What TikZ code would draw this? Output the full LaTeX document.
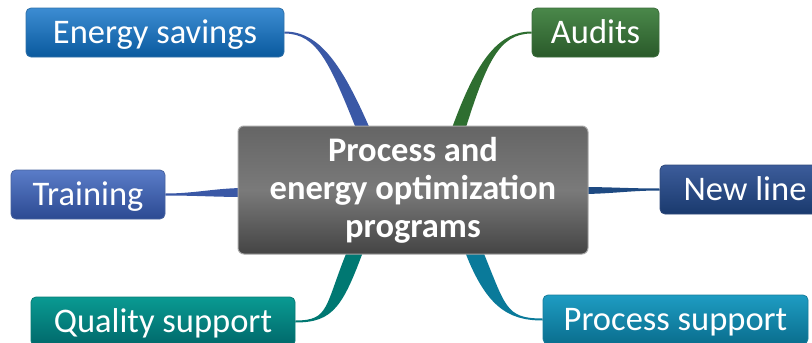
\documentclass[tikz,border=0pt]{standalone}
\usepackage{fontspec}
\setmainfont{Carlito}
\usetikzlibrary{positioning, calc, backgrounds}
\definecolor{hubtop}{HTML}{656565}
\definecolor{hubmid}{HTML}{7A7A7A}
\definecolor{hubbot}{HTML}{444444}
\definecolor{estop}{HTML}{3C8CD2}
\definecolor{esbot}{HTML}{0A5A9E}
\definecolor{autop}{HTML}{4A884A}
\definecolor{aubot}{HTML}{2A5A2A}
\definecolor{trtop}{HTML}{5A7CC8}
\definecolor{trbot}{HTML}{2C4A92}
\definecolor{nltop}{HTML}{3C5C9A}
\definecolor{nlbot}{HTML}{1A3A6E}
\definecolor{qstop}{HTML}{0A9A92}
\definecolor{qsbot}{HTML}{00686A}
\definecolor{pstop}{HTML}{1E9CC2}
\definecolor{psbot}{HTML}{0A6E8E}
\definecolor{brblue}{HTML}{3A58A6}
\definecolor{brgreen}{HTML}{2E6E30}
\definecolor{brnavy}{HTML}{1E4A82}
\definecolor{brteal}{HTML}{007872}
\definecolor{brsea}{HTML}{0A7A9A}

\begin{document}
\begin{tikzpicture}[
  x=1pt, y=-1pt,
  topic/.style = {rounded corners=5pt, minimum height=49pt, inner sep=0pt,
                  text height=26pt, text depth=5pt,
                  text=white, line width=0.8pt, anchor=center,
                  font=\fontsize{34.5}{38}\selectfont},
  hub/.style   = {rounded corners=6pt, draw=black!35, line width=1pt,
                  minimum width=350pt, minimum height=128pt, inner sep=0pt,
                  top color=hubtop, bottom color=hubbot, middle color=hubmid,
                  text=white, align=center, anchor=center,
                  font=\fontsize{34.5}{38}\selectfont\bfseries}
]
\useasboundingbox (0,0) rectangle (812,343);
\clip (0,0) rectangle (812,343);

% nodes: hub in the middle, six topics round it
\node[hub] (hub) at (413,190) {Process and\\energy optimization\\programs};
\node[topic, minimum width=258pt, draw=estop!80!black, top color=estop, bottom color=esbot] (es) at (155,32.5) {Energy savings};
\node[topic, minimum width=127pt, draw=autop!80!black, top color=autop, bottom color=aubot] (au) at (595.5,32.5) {Audits};
\node[topic, minimum width=154pt, draw=trtop!80!black, top color=trtop, bottom color=trbot] (tr) at (88,194.5) {Training};
\node[topic, minimum width=170pt, draw=nltop!80!black, top color=nltop, bottom color=nlbot] (nl) at (745,189.5) {New line};
\node[topic, minimum width=264pt, draw=qstop!80!black, top color=qstop, bottom color=qsbot] (qs) at (163,321.5) {Quality support};
\node[topic, minimum width=265pt, draw=pstop!80!black, top color=pstop, bottom color=psbot] (ps) at (675.5,319.5) {Process support};

% tapered branches, under the boxes
\begin{scope}[on background layer]
\fill[brblue] ($(es.east)+(0,-1)$) .. controls +(35,0) and +(-30,-70) .. ($(hub.north)+(-41,8)$)
  -- ($(hub.north)+(-55,8)$) .. controls +(-28,-70) and +(33,0) .. ($(es.east)+(0,1)$) -- cycle;
\fill[brgreen] ($(au.west)+(0,-1)$) .. controls +(-35,0) and +(25,-70) .. ($(hub.north)+(37,8)$)
  -- ($(hub.north)+(51,8)$) .. controls +(22,-70) and +(-33,0) .. ($(au.west)+(0,1)$) -- cycle;
\fill[brblue] ($(tr.east)+(0,-1)$) .. controls +(30,0) and +(-30,0) .. ($(hub.west)+(8,-2)$)
  -- ($(hub.west)+(8,7)$) .. controls +(-30,0) and +(30,0) .. ($(tr.east)+(0,1)$) -- cycle;
\fill[brnavy] ($(nl.west)+(0,-1)$) .. controls +(-30,0) and +(30,0) .. ($(hub.east)+(-8,-3)$)
  -- ($(hub.east)+(-8,4)$) .. controls +(30,0) and +(-30,0) .. ($(nl.west)+(0,1)$) -- cycle;
\fill[brteal] ($(qs.east)+(0,-1)$) .. controls +(35,0) and +(-25,60) .. ($(hub.south)+(-64,-8)$)
  -- ($(hub.south)+(-48,-8)$) .. controls +(-22,60) and +(38,0) .. ($(qs.east)+(0,1)$) -- cycle;
\fill[brsea] ($(ps.west)+(0,1)$) .. controls +(-35,0) and +(22,60) .. ($(hub.south)+(50,-8)$)
  -- ($(hub.south)+(68,-8)$) .. controls +(25,60) and +(-38,0) .. ($(ps.west)+(0,-1)$) -- cycle;
\end{scope}

\end{tikzpicture}
\end{document}
